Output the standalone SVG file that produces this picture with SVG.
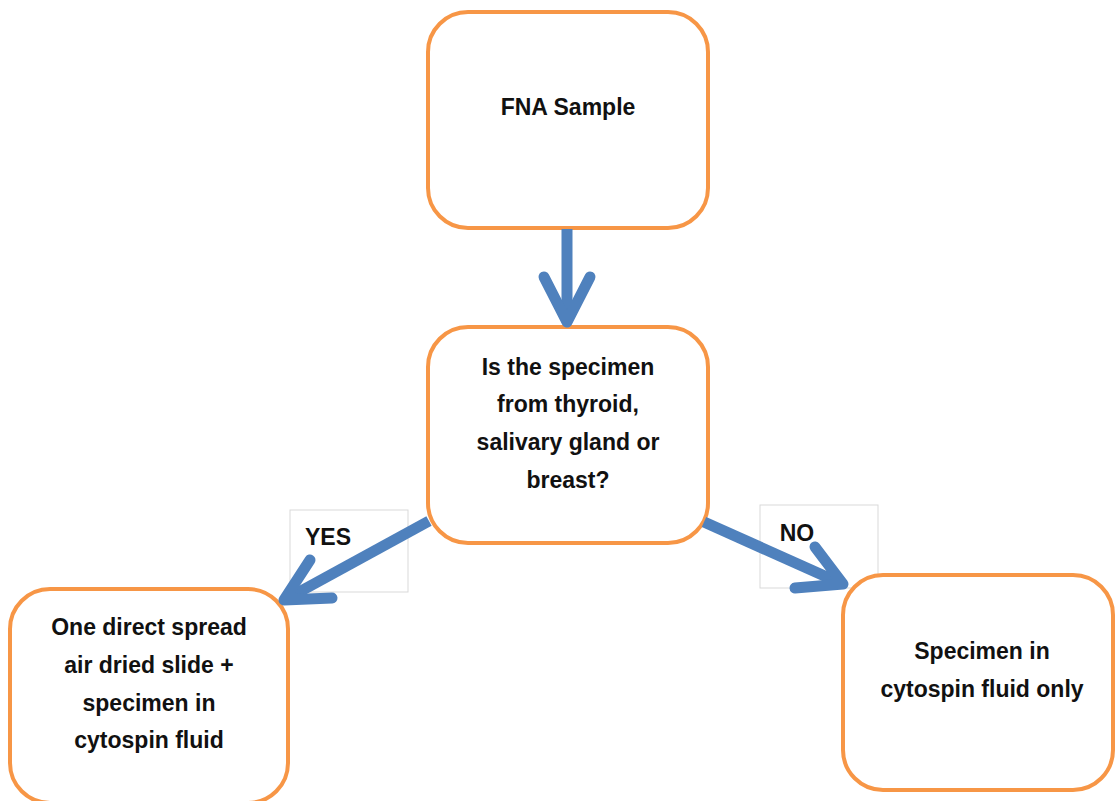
<svg xmlns="http://www.w3.org/2000/svg" width="1116" height="801" viewBox="0 0 1116 801">
<style>
.box{fill:#fff;stroke:#F79646;stroke-width:4}
.lbl{fill:#fff;stroke:#d9d9d9;stroke-width:1}
.arr{fill:none;stroke:#4F81BD;stroke-width:11;stroke-linecap:round;stroke-linejoin:round}
.shaft{fill:none;stroke:#4F81BD;stroke-width:11;stroke-linecap:butt}
text{font-family:"Liberation Sans",Arial,sans-serif;font-size:23px;font-weight:bold;fill:#111;text-anchor:middle}
</style>
<rect width="1116" height="801" fill="#fff"/>
<g id="label-yes"><rect class="lbl" x="290" y="510" width="118" height="82"/><text x="328" y="545">YES</text></g>
<g id="label-no"><rect class="lbl" x="760" y="505" width="118" height="83"/><text x="797" y="541">NO</text></g>
<g id="n1"><rect class="box" x="428" y="12" width="280" height="216" rx="40"/><text x="568" y="115">FNA Sample</text></g>
<g id="n2"><rect class="box" x="428" y="327" width="280" height="216" rx="40"/>
<text x="568" y="375">Is the specimen</text><text x="568" y="412">from thyroid,</text><text x="568" y="450">salivary gland or</text><text x="568" y="488">breast?</text></g>
<g id="n3"><rect class="box" x="10" y="589" width="278" height="214" rx="40"/>
<text x="149" y="635">One direct spread</text><text x="149" y="673">air dried slide +</text><text x="149" y="711">specimen in</text><text x="149" y="748">cytospin fluid</text></g>
<g id="n4"><rect class="box" x="843" y="575" width="270" height="215" rx="40"/>
<text x="982" y="659">Specimen in</text><text x="982" y="697">cytospin fluid only</text></g>
<g id="connectors">
<path class="shaft" d="M567 229 V316"/>
<path class="arr" d="M544 277 L567 322 L590 277"/>
<path class="shaft" d="M429 521 L290 597"/>
<path class="arr" d="M310 560 L284 600 L332 598"/>
<path class="shaft" d="M704 522 L838 582"/>
<path class="arr" d="M815 547 L843 584 L795 588"/>
</g>
</svg>
